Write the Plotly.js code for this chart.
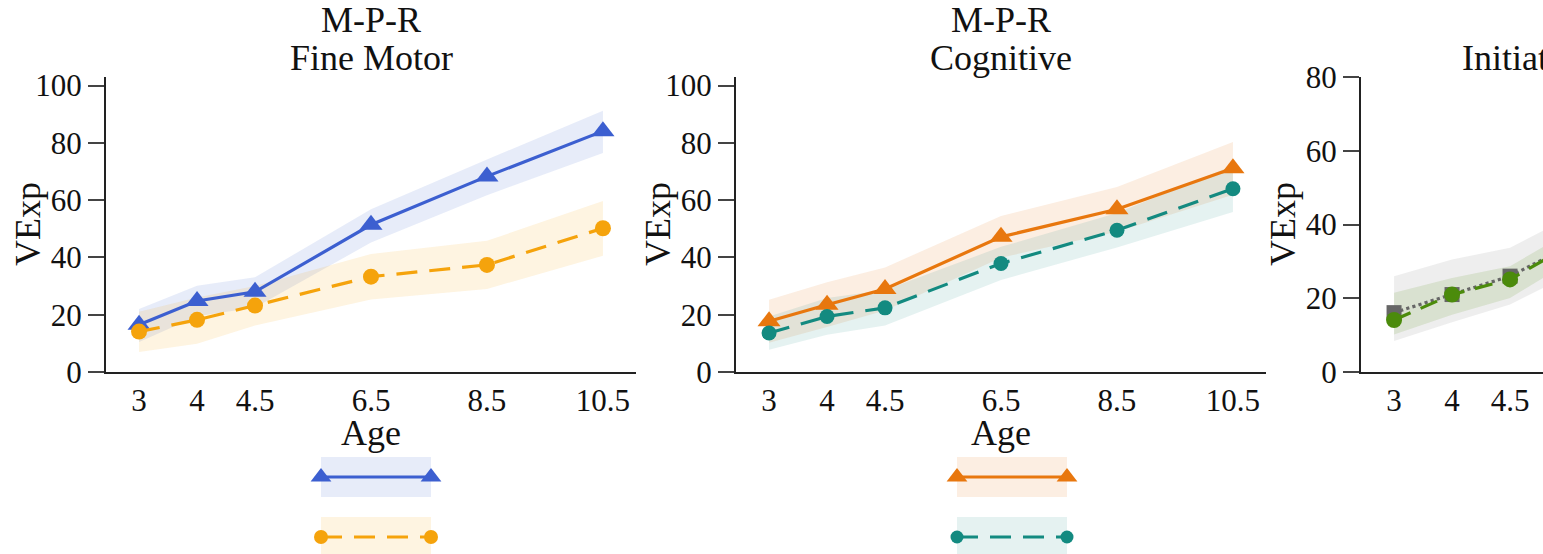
<!DOCTYPE html>
<html>
<head>
<meta charset="utf-8">
<script src="https://cdn.plot.ly/plotly-3.0.1.min.js"></script>
<style>
  html, body { margin: 0; padding: 0; background: #fff; }
  #wrap { width: 1543px; height: 554px; overflow: hidden; position: relative; }
  #chart { width: 1950px; height: 554px; }
</style>
</head>
<body>
<div id="wrap"><div id="chart"></div></div>
<script>
// ---------- data ----------
const ages = ['3', '4', '4.5', '6.5', '8.5', '10.5'];
const ageSlots = ['3', '4', '4.5', '5.5', '6.5', '7.5', '8.5', '9.5', '10.5'];

const fmTitle1 = 'M-P-R', fmTitle2 = 'Fine Motor';
const fmA = [16.5, 24.8, 28.0, 51.4, 68.3, 84.1];
const fmA_lo = [10.5, 19.5, 22.5, 45.2, 61.7, 76.5];
const fmA_hi = [22.0, 30.1, 33.1, 56.8, 74.2, 91.2];
const fmB = [14.1, 18.2, 23.2, 33.3, 37.4, 50.2];
const fmB_lo = [7.0, 9.9, 16.2, 25.3, 29.0, 40.6];
const fmB_hi = [21.0, 26.0, 30.0, 41.2, 45.8, 59.7];

const cgTitle1 = 'M-P-R', cgTitle2 = 'Cognitive';
const cgA = [17.7, 23.5, 29.0, 47.2, 56.8, 71.1];
const cgA_lo = [10.2, 15.7, 21.5, 39.9, 49.0, 61.9];
const cgA_hi = [25.2, 31.3, 36.5, 54.5, 64.6, 80.3];
const cgB = [13.6, 19.4, 22.4, 37.9, 49.5, 64.0];
const cgB_lo = [7.8, 13.0, 16.2, 32.1, 43.5, 55.9];
const cgB_hi = [19.4, 25.8, 28.6, 43.7, 55.5, 72.1];

const ijTitle = 'Initiating Joint Attention';
const ijA = [16.1, 21.0, 26.0, 42.0, 50.0, 58.0];
const ijA_lo = [8.4, 13.5, 18.3, 34.0, 41.0, 48.0];
const ijA_hi = [26.0, 30.5, 33.7, 50.0, 59.0, 68.0];
const ijB = [14.1, 21.0, 25.1, 43.0, 51.0, 60.0];
const ijB_lo = [10.2, 15.5, 20.1, 39.0, 46.0, 54.0];
const ijB_hi = [21.5, 25.5, 28.7, 47.0, 56.0, 66.0];

const yTicks100 = [0, 20, 40, 60, 80, 100];
const yTicks80 = [0, 20, 40, 60, 80];
const yLabel = 'VExp';
const xLabel = 'Age';

// ---------- geometry helpers (pixels -> paper) ----------
const W = 1950, H = 554;
const fx = p => p / W;
const fy = p => 1 - p / H;
const FONT = 'Liberation Serif';

const panels = [
  { x0: 106, x1: 636, legX0: 321, legX1: 431, yMax: 103, ticks: yTicks100 },
  { x0: 736, x1: 1266, legX0: 957, legX1: 1067, yMax: 103, ticks: yTicks100 },
  { x0: 1361, x1: 1891, legX0: 1578, legX1: 1688, yMax: 80, ticks: yTicks80 }
];
const plotTop = 77, plotBot = 372;

const series = [
  [
    { y: fmA, lo: fmA_lo, hi: fmA_hi, color: '#3C5FD0', band: 'rgba(60,95,208,0.12)', symbol: 'triangle-up', size: 20, dash: 'solid' },
    { y: fmB, lo: fmB_lo, hi: fmB_hi, color: '#F5A30C', band: 'rgba(245,163,12,0.12)', symbol: 'circle', size: 16, dash: '21px,12px' }
  ],
  [
    { y: cgA, lo: cgA_lo, hi: cgA_hi, color: '#E8770E', band: 'rgba(232,119,14,0.12)', symbol: 'triangle-up', size: 20, dash: 'solid' },
    { y: cgB, lo: cgB_lo, hi: cgB_hi, color: '#138A80', band: 'rgba(19,138,128,0.11)', symbol: 'circle', size: 15, dash: '21px,12px' }
  ],
  [
    { y: ijA, lo: ijA_lo, hi: ijA_hi, color: '#666666', band: 'rgba(120,120,120,0.13)', symbol: 'square', size: 15, dash: 'dot' },
    { y: ijB, lo: ijB_lo, hi: ijB_hi, color: '#4B8B0B', band: 'rgba(75,139,11,0.13)', symbol: 'circle', size: 16, dash: '18px,11px' }
  ]
];

const traces = [];
const layout = {
  width: W, height: H,
  margin: { l: 0, r: 0, t: 0, b: 0 },
  paper_bgcolor: '#fff', plot_bgcolor: '#fff',
  showlegend: false,
  font: { family: FONT, color: '#111' },
  annotations: [], shapes: []
};

panels.forEach((p, i) => {
  const n = i + 1;
  const xa = 'x' + n, ya = 'y' + n;
  const xk = 'xaxis' + n, yk = 'yaxis' + n;
  layout[xk] = {
    domain: [fx(p.x0), fx(p.x1)], anchor: ya,
    type: 'category', categoryorder: 'array', categoryarray: ageSlots,
    tickmode: 'array', tickvals: ages, ticktext: ages,
    range: [-0.57, 8.57],
    showline: true, linecolor: '#222', linewidth: 2,
    ticks: '', showgrid: false, zeroline: false,
    tickfont: { family: FONT, size: 31, color: '#111' }
  };
  layout[yk] = {
    domain: [fy(plotBot), fy(plotTop)], anchor: xa,
    range: [0, p.yMax], tickmode: 'array', tickvals: p.ticks,
    showline: true, linecolor: '#222', linewidth: 2,
    ticks: 'outside', ticklen: 16, tickwidth: 2, tickcolor: '#444',
    showgrid: false, zeroline: false,
    tickfont: { family: FONT, size: 31, color: '#111' }
  };

  // bands
  series[i].forEach(s => {
    traces.push({ x: ages, y: s.lo, xaxis: xa, yaxis: ya, type: 'scatter', mode: 'lines',
      line: { width: 0, color: s.band }, hoverinfo: 'skip' });
    traces.push({ x: ages, y: s.hi, xaxis: xa, yaxis: ya, type: 'scatter', mode: 'lines',
      line: { width: 0, color: s.band }, fill: 'tonexty', fillcolor: s.band, hoverinfo: 'skip' });
  });
  // lines
  series[i].forEach(s => {
    traces.push({ x: ages, y: s.y, xaxis: xa, yaxis: ya, type: 'scatter', mode: 'lines+markers',
      cliponaxis: false,
      line: { color: s.color, width: 3.2, dash: s.dash },
      marker: { symbol: s.symbol, size: s.size, color: s.color, line: { width: 0 } } });
  });

  // legend glyph axes
  const lx = 'x' + (n + 3), ly = 'y' + (n + 3);
  layout['xaxis' + (n + 3)] = { domain: [fx(p.legX0), fx(p.legX1)], anchor: ly, range: [0, 1], visible: false, fixedrange: true };
  layout['yaxis' + (n + 3)] = { domain: [0, fy(457)], anchor: lx, range: [1.2833, -0.3333], visible: false, fixedrange: true };
  series[i].forEach((s, r) => {
    layout.shapes.push({ type: 'rect', xref: lx, yref: ly, x0: 0, x1: 1, y0: r - 0.333, y1: r + 0.333,
      fillcolor: s.band, line: { width: 0 }, layer: 'below' });
    traces.push({ x: [0, 1], y: [r, r], xaxis: lx, yaxis: ly, type: 'scatter', mode: 'lines+markers',
      cliponaxis: false,
      line: { color: s.color, width: 3, dash: s.dash },
      marker: { symbol: s.symbol, size: s.size - 2, color: s.color } });
  });

  const cx = (p.x0 + p.x1) / 2;
  // axis titles
  layout.annotations.push({ xref: 'paper', yref: 'paper', x: fx(p.x0 - 78), y: fy(224),
    text: yLabel, textangle: -90, showarrow: false, xanchor: 'center', yanchor: 'middle',
    font: { family: FONT, size: 36, color: '#111' } });
  layout.annotations.push({ xref: 'paper', yref: 'paper', x: fx(cx), y: fy(433),
    text: xLabel, showarrow: false, xanchor: 'center', yanchor: 'middle',
    font: { family: FONT, size: 36, color: '#111' } });
});

// subplot titles
const titleFont = { family: FONT, size: 36, color: '#111' };
[[panels[0], fmTitle1, fmTitle2], [panels[1], cgTitle1, cgTitle2]].forEach(([p, t1, t2]) => {
  const cx = (p.x0 + p.x1) / 2;
  layout.annotations.push({ xref: 'paper', yref: 'paper', x: fx(cx), y: fy(20), text: t1,
    showarrow: false, xanchor: 'center', yanchor: 'middle', font: titleFont });
  layout.annotations.push({ xref: 'paper', yref: 'paper', x: fx(cx), y: fy(58), text: t2,
    showarrow: false, xanchor: 'center', yanchor: 'middle', font: titleFont });
});
layout.annotations.push({ xref: 'paper', yref: 'paper', x: fx(1460), y: fy(58), text: ijTitle,
  showarrow: false, xanchor: 'left', yanchor: 'middle', font: titleFont });

Plotly.newPlot('chart', traces, layout, { displayModeBar: false, staticPlot: true });
</script>
</body>
</html>
